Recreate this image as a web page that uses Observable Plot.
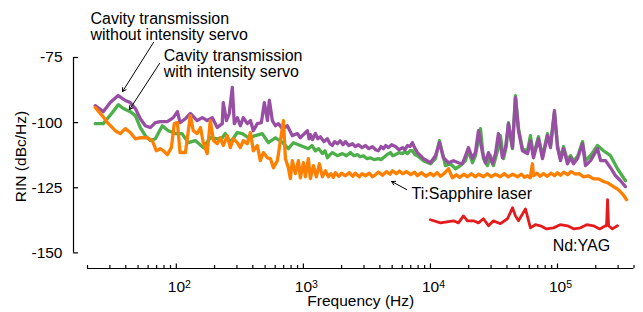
<!DOCTYPE html>
<html><head><meta charset="utf-8">
<script src="https://cdn.jsdelivr.net/npm/d3@7"></script>
<script src="https://cdn.jsdelivr.net/npm/@observablehq/plot@0.6"></script>
<style>body{margin:0;background:#fff} svg{display:block}</style>
</head><body><div id="chart"></div>
<script>
// [frequency (Hz), RIN (dBc/Hz)]
const withoutServo = [[23.0,-93.5],[26.6,-95.8],[30.2,-92.3],[34.9,-89.6],[39.7,-91.5],[43.4,-92.3],[47.6,-94.6],[52.1,-98.5],[57.0,-101.2],[62.4,-101.9],[68.4,-100.0],[74.8,-99.6],[85.0,-99.6],[94.7,-98.1],[102,-95.8],[107,-100.0],[118,-98.5],[129,-96.5],[146,-99.2],[160,-98.1],[175,-99.2],[192,-98.1],[210,-101.9],[230,-100.4],[234,-92.3],[248,-99.2],[261,-96.5],[276,-86.5],[286,-100.4],[302,-98.1],[319,-101.2],[337,-98.1],[362,-100.4],[383,-99.2],[404,-103.1],[434,-100.4],[467,-100.0],[493,-92.3],[521,-99.2],[540,-91.5],[570,-99.2],[603,-101.2],[635,-100.4],[684,-102.3],[748,-101.2],[819,-105.0],[897,-104.2],[946,-105.8],[982,-105.0],[1075,-103.1],[1110,-106.2],[1135,-104.6],[1180,-106.5],[1243,-104.2],[1300,-106.2],[1361,-105.4],[1450,-107.3],[1545,-106.2],[1620,-108.1],[1692,-108.8],[1760,-107.3],[1852,-108.1],[1950,-107.0],[2050,-108.5],[2143,-107.3],[2280,-108.8],[2432,-108.1],[2560,-109.2],[2710,-108.5],[2900,-109.6],[3076,-108.8],[3280,-110.0],[3494,-109.2],[3700,-110.4],[3898,-110.8],[4080,-109.2],[4266,-110.0],[4450,-108.8],[4667,-109.6],[4950,-108.5],[5300,-109.2],[5650,-110.4],[6026,-109.6],[6300,-110.4],[6590,-108.8],[6900,-109.2],[7213,-107.7],[7500,-109.6],[7900,-111.5],[8810,-113.8],[10000,-115.4],[10950,-112.7],[11780,-107.7],[12650,-113.5],[13870,-115.4],[15170,-114.6],[16600,-115.4],[17870,-115.8],[18880,-112.7],[19910,-109.6],[21410,-113.8],[22590,-111.5],[23880,-103.1],[25660,-111.5],[27100,-115.4],[28640,-111.5],[30760,-115.8],[32500,-111.9],[34280,-104.2],[36900,-113.5],[38990,-109.6],[41110,-100.4],[44240,-109.6],[46670,-90.4],[49310,-103.1],[52970,-110.8],[58070,-111.9],[61240,-106.9],[64710,-113.5],[70800,-106.2],[76200,-113.8],[83400,-105.0],[88100,-109.6],[94600,-95.4],[100000,-109.6],[105600,-114.6],[111500,-110.0],[119900,-115.8],[126500,-113.5],[133700,-115.8],[143700,-113.8],[157400,-108.1],[166000,-116.5],[182000,-114.6],[206500,-110.0],[218300,-114.6],[238900,-114.6],[261300,-117.3],[286400,-120.4],[313300,-122.3],[342800,-124.6]];

const withServo = [[23.0,-100.4],[26.6,-100.4],[31.3,-96.2],[34.9,-93.1],[38.3,-94.6],[43.4,-95.8],[47.6,-97.3],[52.1,-101.9],[57.0,-105.0],[62.4,-106.9],[68.4,-106.2],[77.6,-101.2],[86.5,-103.1],[98.2,-104.2],[111,-104.2],[124,-107.7],[141,-106.9],[163,-109.6],[185,-105.8],[210,-106.2],[230,-105.8],[243,-104.2],[266,-107.7],[302,-103.8],[331,-104.2],[369,-105.8],[419,-105.0],[475,-104.2],[530,-107.7],[603,-105.8],[684,-107.7],[762,-110.0],[834,-107.7],[946,-108.8],[1095,-110.0],[1170,-108.8],[1243,-110.8],[1320,-110.0],[1412,-111.9],[1480,-110.8],[1545,-113.5],[1620,-112.3],[1692,-111.5],[1850,-112.7],[2029,-111.9],[2180,-112.7],[2345,-111.5],[2500,-112.7],[2661,-112.3],[2800,-113.1],[2967,-112.7],[3150,-113.8],[3370,-113.5],[3600,-114.2],[3898,-113.8],[4080,-114.2],[4266,-113.5],[4550,-112.3],[4842,-111.5],[5050,-112.7],[5300,-112.3],[5650,-111.5],[6026,-111.9],[6300,-111.1],[6590,-111.9],[6900,-110.8],[7213,-110.8],[7550,-112.3],[7900,-112.7],[8810,-114.6],[10000,-115.8],[10950,-113.8],[11780,-106.9],[13120,-116.5],[14360,-115.8],[15740,-117.7],[17220,-116.5],[18880,-114.6],[19910,-110.8],[21410,-115.4],[22590,-112.7],[24770,-102.3],[26120,-113.8],[28120,-116.5],[29650,-112.7],[31330,-116.5],[33710,-110.8],[35560,-105.0],[37580,-113.8],[39630,-108.8],[41110,-100.0],[44240,-110.0],[46670,-89.6],[49310,-102.3],[52970,-110.0],[58070,-110.8],[61240,-105.0],[64710,-112.7],[70800,-105.4],[76200,-113.1],[83400,-104.2],[88100,-108.8],[94600,-96.2],[100000,-108.8],[105600,-113.8],[111500,-109.2],[119900,-114.6],[126500,-112.7],[133700,-114.6],[143700,-113.1],[157400,-107.3],[166000,-114.6],[182000,-112.7],[206500,-108.8],[230300,-110.8],[261300,-112.7],[296500,-117.7],[342800,-122.3]];

const tiSapphire = [[23.0,-94.2],[26.1,-97.3],[29.2,-100.4],[33.1,-103.1],[36.2,-104.2],[39.7,-102.3],[43.4,-103.8],[47.6,-106.2],[52.1,-105.8],[59.1,-105.8],[64.7,-106.9],[69.6,-110.8],[74.8,-110.0],[79.0,-110.8],[85.0,-112.3],[91.4,-109.6],[96.4,-100.4],[102,-100.0],[107,-111.5],[118,-111.5],[129,-97.3],[136,-103.1],[146,-104.2],[155,-101.9],[163,-107.7],[175,-111.9],[185,-99.2],[196,-106.9],[210,-108.1],[222,-105.8],[234,-108.8],[252,-105.0],[266,-109.6],[281,-106.2],[302,-107.7],[319,-109.6],[337,-106.9],[362,-108.1],[383,-103.8],[404,-110.8],[434,-108.8],[458,-114.6],[484,-111.5],[521,-113.5],[550,-113.8],[581,-117.3],[624,-114.6],[647,-109.6],[697,-99.2],[722,-113.8],[762,-117.3],[790,-121.5],[819,-114.6],[865,-119.6],[914,-114.6],[946,-121.2],[1000,-115.4],[1037,-120.8],[1095,-113.8],[1135,-121.5],[1199,-116.5],[1265,-120.8],[1337,-115.8],[1412,-120.8],[1490,-118.5],[1574,-120.8],[1650,-119.6],[1720,-121.0],[1786,-119.2],[1900,-120.6],[2000,-119.4],[2143,-120.4],[2300,-119.2],[2450,-120.6],[2565,-119.4],[2750,-120.8],[2900,-119.6],[3076,-120.4],[3300,-119.4],[3500,-120.8],[3690,-120.0],[3900,-119.0],[4190,-120.2],[4500,-118.8],[4800,-119.8],[5023,-118.5],[5400,-119.6],[5700,-118.6],[6026,-119.6],[6500,-118.8],[7000,-120.0],[7500,-119.0],[7900,-120.4],[8500,-119.2],[9200,-120.6],[10000,-119.4],[10560,-120.4],[11300,-119.2],[12000,-120.6],[12800,-119.6],[13870,-117.7],[14890,-121.2],[16000,-120.0],[17000,-121.0],[18300,-119.8],[19550,-120.8],[21000,-119.6],[22500,-120.8],[24000,-119.8],[26120,-120.8],[28000,-119.6],[30000,-120.8],[32500,-119.8],[35560,-120.8],[38000,-119.6],[41000,-120.8],[44500,-119.8],[48420,-120.8],[52000,-119.8],[55000,-121.0],[58070,-120.4],[61000,-121.2],[63500,-115.8],[64710,-120.4],[69000,-119.4],[73000,-120.6],[77600,-119.6],[83000,-120.6],[89000,-119.4],[95000,-120.4],[100000,-119.2],[105600,-120.2],[112000,-119.0],[120000,-120.0],[128000,-118.8],[138700,-119.8],[148000,-119.6],[160300,-120.8],[175000,-120.4],[191900,-121.6],[210000,-121.6],[230300,-122.6],[250000,-123.2],[276100,-124.6],[295000,-125.4],[313300,-126.6],[330000,-127.8],[350000,-129.6]];

const ndYag = [[10000,-137.3],[11990,-138.5],[13500,-138.1],[15170,-137.7],[16600,-138.5],[18200,-135.8],[19550,-137.7],[21810,-137.7],[23880,-138.5],[26120,-136.9],[28640,-139.6],[31330,-137.7],[35560,-138.8],[40380,-136.9],[44240,-132.7],[46670,-135.8],[49310,-137.7],[55980,-133.1],[61240,-140.4],[67000,-139.2],[73450,-139.6],[82000,-140.8],[93000,-140.4],[105000,-139.2],[119900,-139.6],[135000,-140.8],[151700,-140.4],[170000,-139.2],[191900,-139.6],[215000,-140.8],[238900,-139.6],[243200,-139.6],[247700,-129.6],[252400,-139.6],[270000,-140.8],[296500,-139.6]];

const yTicks = [-75, -100, -125, -150];
const xMajorTicks = [1e2, 1e3, 1e4, 1e5];
const xMinorTicks = [20,30,40,50,60,70,80,90,200,300,400,500,600,700,800,900,2000,3000,4000,5000,6000,7000,8000,9000,20000,30000,40000,50000,60000,70000,80000,90000,200000,300000,400000];

const noteText = ["Cavity transmission\nwithout intensity servo", "Cavity transmission\nwith intensity servo", "Ti:Sapphire laser", "Nd:YAG"];
const noteFreq = [21.1, 79.7, 7110, 91600];
const noteRIN = [-57.5, -71.7, -124.9, -144.9];

const arrowFromFreq = [66.2, 73.8, 6496];
const arrowFromRIN = [-69.2, -77.3, -125.7];
const arrowToFreq = [37.7, 42.8, 4950];
const arrowToRIN = [-88.1, -95.0, -122.6];

const xLabel = "Frequency (Hz)";
const yLabel = "RIN (dBc/Hz)";

const colors = {purple: "#984ea3", green: "#4daf4a", orange: "#ff7f00", red: "#e41a1c"};

const notes = noteText.map((t, i) => ({t, f: noteFreq[i], r: noteRIN[i]}));
const arrows = arrowFromFreq.map((f, i) => ({f1: f, r1: arrowFromRIN[i], f2: arrowToFreq[i], r2: arrowToRIN[i]}));

const xMin = 20, xMax = 400000, yMin = -156, yMax = -75;
const lw = 3.3;
const fs = 15.5;

const chart = Plot.plot({
  width: 643,
  height: 312,
  marginLeft: 87,
  marginRight: 9.5,
  marginTop: 57,
  marginBottom: 44,
  style: {fontFamily: "'Liberation Sans', Arial, Helvetica, sans-serif", fontSize: "15px", background: "#fff", overflow: "visible"},
  x: {type: "log", domain: [xMin, xMax], label: null},
  y: {domain: [yMin, yMax], label: null},
  marks: [
    Plot.line(withServo, {x: d => d[0], y: d => d[1], stroke: colors.green, strokeWidth: lw}),
    Plot.line(withoutServo, {x: d => d[0], y: d => d[1], stroke: colors.purple, strokeWidth: lw}),
    Plot.line(tiSapphire, {x: d => d[0], y: d => d[1], stroke: colors.orange, strokeWidth: lw}),
    Plot.line(ndYag, {x: d => d[0], y: d => d[1], stroke: colors.red, strokeWidth: 2.8}),
    // y axis
    Plot.ruleX([xMin], {y1: yTicks[3], y2: yTicks[0], dx: -14, strokeWidth: 1.2}),
    Plot.axisY({ticks: yTicks, tickSize: -5, tickPadding: 16, dx: -14, tickFormat: d => String(d), fontSize: fs, strokeWidth: 1.2, label: null}),
    // x axis
    Plot.ruleY([yMin], {x1: xMin, x2: xMax, strokeWidth: 1.2}),
    Plot.axisX({ticks: xMinorTicks, tickSize: -3, tickFormat: () => "", strokeWidth: 1.2, label: null}),
    Plot.axisX({ticks: xMajorTicks, tickSize: -4.5, tickPadding: 17, tickFormat: d => "10^" + Math.round(Math.log10(d)), fontSize: fs, strokeWidth: 1.2, label: null}),
    Plot.text([xLabel], {frameAnchor: "bottom", lineAnchor: "top", dy: 26, fontSize: fs}),
    Plot.text([yLabel], {frameAnchor: "left", y: () => -113, dx: -66, rotate: -90, textAnchor: "middle", fontSize: fs}),
    // annotations
    Plot.text(notes, {x: "f", y: "r", text: "t", textAnchor: "start", lineAnchor: "top", lineHeight: 1.04, fontSize: 16}),
    Plot.arrow(arrows, {x1: "f1", y1: "r1", x2: "f2", y2: "r2", stroke: "black", strokeWidth: 1, headLength: 6})
  ]
});

d3.select(chart).selectAll('g[aria-label="x-axis tick label"] text').each(function() {
  const t = d3.select(this);
  const s = t.text();
  const parts = s.split("^");
  if (parts.length === 2) {
    t.text(null);
    t.attr("dx", 3);
    t.append("tspan").text(parts[0]);
    t.append("tspan").attr("dy", "-0.42em").attr("font-size", "0.68em").text(parts[1]);
  }
});

document.getElementById("chart").appendChild(chart);
</script></body></html>
